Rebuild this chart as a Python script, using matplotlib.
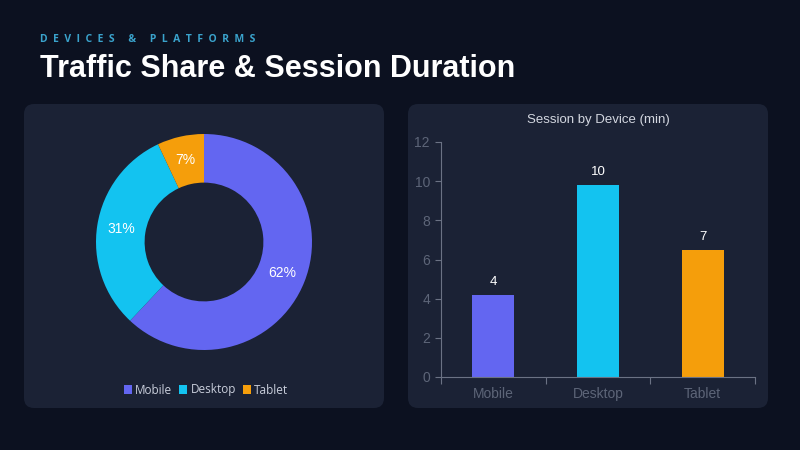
import numpy as np
import matplotlib.pyplot as plt
from matplotlib.patches import FancyBboxPatch

devices = ['Mobile', 'Desktop', 'Tablet']
share = [62, 31, 7]
session_min = [4.2, 9.8, 6.5]
session_labels = ['4', '10', '7']
colors = ['#6366f1', '#13c3f0', '#f59e0b']

bg = '#0c1120'
panel = '#1b2235'

fig = plt.figure(figsize=(8, 4.5), dpi=100, facecolor=bg)

# background layer in pixel coords for panels and header
base = fig.add_axes([0, 0, 1, 1])
base.set_xlim(0, 800)
base.set_ylim(450, 0)
base.axis('off')
for x0 in (24, 408):
    base.add_patch(FancyBboxPatch((x0, 104), 360, 304,
                                  boxstyle='round,pad=0,rounding_size=10',
                                  fc=panel, ec='none'))
kicker = '     '.join('  '.join(w) for w in 'DEVICES & PLATFORMS'.split(' '))
base.text(40, 39, kicker, color='#3aa3cc', fontsize=7.5, fontweight='bold',
          family='Open Sans', va='center', ha='left')
base.text(40, 69, 'Traffic Share & Session Duration', color='white',
          fontsize=22, fontweight='bold', family='Liberation Sans',
          va='center', ha='left')

# donut
ax1 = fig.add_axes([96 / 800, 1 - 350 / 450, 216 / 800, 216 / 450])
wedges, _, autotexts = ax1.pie(share, colors=colors, startangle=90, counterclock=False,
                               radius=1, wedgeprops=dict(width=0.45, linewidth=0),
                               autopct='%d%%', pctdistance=0.775,
                               textprops=dict(color='white', fontsize=10,
                                              family='Liberation Sans'))
ax1.set_xlim(-1, 1)
ax1.set_ylim(-1, 1)
ax1.set_aspect('equal')
leg = fig.legend(wedges, devices, loc='center', bbox_to_anchor=(206 / 800, 1 - 390 / 450),
                 ncol=3, frameon=False, handlelength=0.7, handleheight=0.7,
                 handletextpad=0.25, columnspacing=0.6,
                 prop=dict(family='Open Sans', size=8.5))
for t in leg.get_texts():
    t.set_color('#c9cedb')

# bars
ax2 = fig.add_axes([441 / 800, 1 - 377 / 450, 314 / 800, 235 / 450])
ax2.set_facecolor('none')
x = np.arange(len(devices))
ax2.bar(x, session_min, width=0.4, color=colors)
for xi, v, lab in zip(x, session_min, session_labels):
    ax2.text(xi, v + 0.35, lab, ha='center', va='bottom', color='white',
             fontsize=9.5, family='Liberation Sans')
ax2.set_xlim(-0.5, 2.5)
ax2.set_ylim(0, 12)
ax2.set_yticks(range(0, 13, 2))
ax2.set_xticks([-0.5, 0.5, 1.5, 2.5])
ax2.set_xticklabels([])
ax2.set_xticks(x, minor=True)
ax2.set_xticklabels(devices, minor=True)
ax2.tick_params(axis='x', which='major', length=5, color='#6b7284', direction='out')
ax2.tick_params(axis='x', which='minor', length=0, pad=7, labelcolor='#5d6578', labelsize=10)
ax2.tick_params(axis='y', length=4, color='#6b7284', labelcolor='#5d6578', labelsize=10, pad=4)
for lab in ax2.get_xticklabels(minor=True) + ax2.get_yticklabels():
    lab.set_family('Liberation Sans')
for s in ('top', 'right'):
    ax2.spines[s].set_visible(False)
for s in ('left', 'bottom'):
    ax2.spines[s].set_color('#6b7284')
ax2.set_title('Session by Device (min)', color='#d3d7e0', fontsize=9.5,
              family='Liberation Sans', pad=14)

fig.savefig('out.png', dpi=100, facecolor=bg)
